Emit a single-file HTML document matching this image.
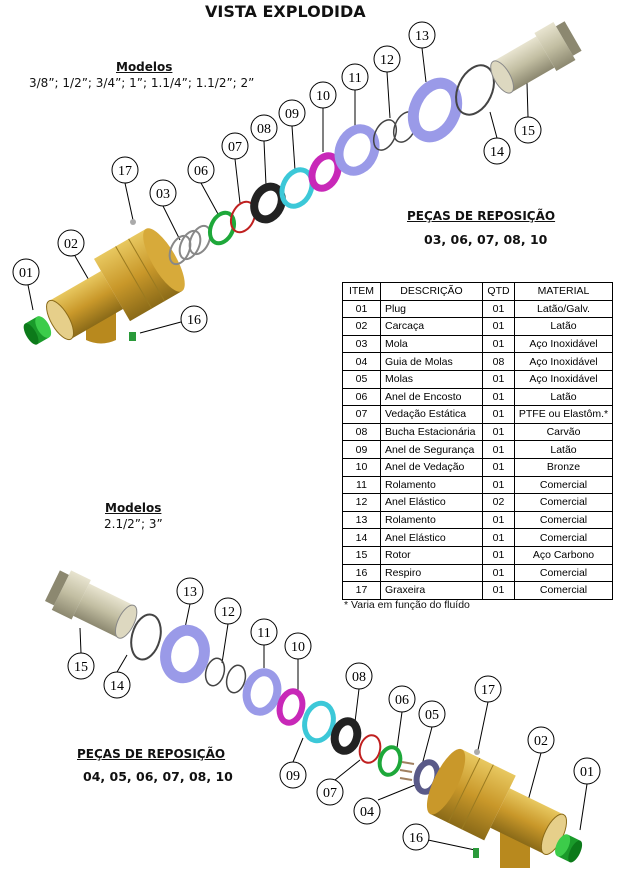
<!DOCTYPE html>
<html><head><meta charset="utf-8"><style>
body{margin:0;background:#fff;width:617px;height:873px;overflow:hidden;position:relative;font-family:"DejaVu Sans","Liberation Sans",sans-serif}
.t{position:absolute;white-space:nowrap;color:#111}
table{position:absolute;left:342px;top:282px;border-collapse:collapse;table-layout:fixed;width:270px;font-size:10.5px;font-family:"Liberation Sans",sans-serif}
td{border:1px solid #000;height:16.6px;padding:0 0 0 4px;line-height:16px;white-space:nowrap;overflow:hidden}
td.c{text-align:center;padding:0}
</style></head><body>
<svg width="617" height="873" style="position:absolute;left:0;top:0" xmlns="http://www.w3.org/2000/svg">
<defs>
<linearGradient id="br" x1="0" y1="0" x2="0" y2="1"><stop offset="0" stop-color="#e8c860"/><stop offset=".5" stop-color="#c9982a"/><stop offset="1" stop-color="#8a6a18"/></linearGradient>
<linearGradient id="ro" x1="0" y1="0" x2="0" y2="1"><stop offset="0" stop-color="#e8e4d0"/><stop offset=".5" stop-color="#c2bea2"/><stop offset="1" stop-color="#8c8870"/></linearGradient>
</defs>
<g stroke="#000" stroke-width="1" fill="none">
<line x1="125" y1="183" x2="133" y2="220"/><line x1="163" y1="206" x2="180" y2="240"/>
<line x1="201" y1="183" x2="218" y2="214"/><line x1="235" y1="159" x2="240" y2="203"/>
<line x1="264" y1="141" x2="266" y2="185"/><line x1="292" y1="126" x2="295" y2="170"/>
<line x1="323" y1="108" x2="323" y2="152"/><line x1="355" y1="90" x2="355" y2="128"/>
<line x1="387" y1="72" x2="390" y2="118"/><line x1="422" y1="48" x2="426" y2="82"/>
<line x1="497" y1="138" x2="490" y2="112"/><line x1="528" y1="117" x2="527" y2="83"/>
<line x1="75" y1="256" x2="90" y2="282"/><line x1="28" y1="285" x2="33" y2="310"/>
<line x1="181" y1="322" x2="140" y2="333"/>
<line x1="190" y1="604" x2="185" y2="628"/><line x1="228" y1="624" x2="222" y2="663"/>
<line x1="264" y1="645" x2="264" y2="668"/><line x1="298" y1="659" x2="298" y2="690"/>
<line x1="359" y1="689" x2="355" y2="722"/><line x1="402" y1="712" x2="397" y2="748"/>
<line x1="432" y1="727" x2="422" y2="765"/><line x1="488" y1="702" x2="478" y2="750"/>
<line x1="541" y1="753" x2="525" y2="812"/><line x1="587" y1="784" x2="580" y2="830"/>
<line x1="81" y1="653" x2="80" y2="628"/><line x1="117" y1="672" x2="127" y2="655"/>
<line x1="293" y1="762" x2="303" y2="738"/><line x1="335" y1="780" x2="360" y2="760"/>
<line x1="378" y1="800" x2="415" y2="785"/><line x1="428" y1="840" x2="475" y2="850"/>
</g>
<g transform="translate(38,330) rotate(-30)"><rect x="-8" y="-12" width="14" height="24" fill="#1a9a2a"/><ellipse cx="6" cy="0" rx="6" ry="12" fill="#3ccc4a"/><ellipse cx="-8" cy="0" rx="5" ry="12" fill="#0c7a1a"/></g>
<path d="M86,300 L116,300 L116,340 Q101,347 86,340 Z" fill="#b8891e"/>
<g transform="translate(112,290) rotate(-30)">
<rect x="-60" y="-22" width="60" height="44" fill="url(#br)"/>
<rect x="0" y="-36" width="60" height="72" fill="url(#br)"/>
<ellipse cx="60" cy="0" rx="12" ry="36" fill="#d7aa3a"/>
<ellipse cx="-60" cy="0" rx="9" ry="22" fill="#e6cf8a" stroke="#8a6a18"/>
<line x1="25" y1="-36" x2="25" y2="36" stroke="#9a7a20"/><line x1="40" y1="-36" x2="40" y2="36" stroke="#9a7a20"/>
</g>
<circle cx="133" cy="222" r="3" fill="#aaa"/>
<rect x="129" y="332" width="7" height="9" fill="#2a9a3a"/>
<g fill="none" stroke="#888" stroke-width="2"><ellipse cx="180" cy="250" rx="9" ry="15" transform="rotate(25 180 250)"/><ellipse cx="190" cy="245" rx="9" ry="15" transform="rotate(25 190 245)"/><ellipse cx="200" cy="240" rx="9" ry="15" transform="rotate(25 200 240)"/></g>
<ellipse cx="222" cy="228" rx="11" ry="16" transform="rotate(25 222 228)" fill="none" stroke="#1ea83a" stroke-width="4"/>
<ellipse cx="243" cy="217" rx="11" ry="16" transform="rotate(25 243 217)" fill="none" stroke="#c02020" stroke-width="2"/>
<ellipse cx="268" cy="203" rx="13" ry="17" transform="rotate(25 268 203)" fill="none" stroke="#222" stroke-width="8"/>
<ellipse cx="297" cy="188" rx="14" ry="19" transform="rotate(25 297 188)" fill="none" stroke="#3cc8d8" stroke-width="5"/>
<ellipse cx="325" cy="172" rx="12" ry="17" transform="rotate(25 325 172)" fill="none" stroke="#c828b8" stroke-width="7"/>
<ellipse cx="357" cy="150" rx="17" ry="22" transform="rotate(25 357 150)" fill="none" stroke="#9a9ae8" stroke-width="9"/>
<ellipse cx="385" cy="135" rx="10" ry="16" transform="rotate(25 385 135)" fill="none" stroke="#444" stroke-width="1.5"/>
<ellipse cx="405" cy="127" rx="10" ry="16" transform="rotate(25 405 127)" fill="none" stroke="#444" stroke-width="1.5"/>
<ellipse cx="435" cy="110" rx="20" ry="28" transform="rotate(25 435 110)" fill="none" stroke="#9a9ae8" stroke-width="11"/>
<ellipse cx="475" cy="90" rx="17" ry="26" transform="rotate(25 475 90)" fill="none" stroke="#444" stroke-width="2"/>
<g transform="translate(535,58) rotate(-30)"><rect x="-38" y="-18" width="50" height="36" fill="url(#ro)"/><rect x="12" y="-22" width="22" height="44" fill="url(#ro)"/><rect x="34" y="-17" width="10" height="34" fill="#8c8870"/><ellipse cx="-38" cy="0" rx="8" ry="18" fill="#ddd8c0" stroke="#888"/></g>
<g transform="translate(92,605) rotate(26)"><rect x="-12" y="-18" width="50" height="36" fill="url(#ro)"/><rect x="-34" y="-22" width="22" height="44" fill="url(#ro)"/><rect x="-44" y="-17" width="10" height="34" fill="#8c8870"/><ellipse cx="38" cy="0" rx="8" ry="18" fill="#ddd8c0" stroke="#888"/></g>
<ellipse cx="146" cy="637" rx="14" ry="23" transform="rotate(15 146 637)" fill="none" stroke="#444" stroke-width="2"/>
<ellipse cx="185" cy="654" rx="19" ry="24" transform="rotate(15 185 654)" fill="none" stroke="#9a9ae8" stroke-width="11"/>
<ellipse cx="215" cy="672" rx="9" ry="14" transform="rotate(15 215 672)" fill="none" stroke="#444" stroke-width="1.5"/>
<ellipse cx="236" cy="679" rx="9" ry="14" transform="rotate(15 236 679)" fill="none" stroke="#444" stroke-width="1.5"/>
<ellipse cx="262" cy="692" rx="15" ry="20" transform="rotate(15 262 692)" fill="none" stroke="#9a9ae8" stroke-width="8"/>
<ellipse cx="291" cy="707" rx="11" ry="16" transform="rotate(15 291 707)" fill="none" stroke="#c828b8" stroke-width="6"/>
<ellipse cx="319" cy="722" rx="14" ry="19" transform="rotate(15 319 722)" fill="none" stroke="#3cc8d8" stroke-width="5"/>
<ellipse cx="346" cy="736" rx="11" ry="15" transform="rotate(15 346 736)" fill="none" stroke="#222" stroke-width="8"/>
<ellipse cx="370" cy="749" rx="10" ry="14" transform="rotate(15 370 749)" fill="none" stroke="#c02020" stroke-width="2"/>
<ellipse cx="390" cy="761" rx="10" ry="14" transform="rotate(15 390 761)" fill="none" stroke="#1ea83a" stroke-width="4"/>
<g stroke="#a08060" stroke-width="2"><line x1="402" y1="762" x2="414" y2="764"/><line x1="400" y1="770" x2="412" y2="772"/><line x1="400" y1="778" x2="412" y2="780"/></g>
<ellipse cx="427" cy="777" rx="10" ry="15" transform="rotate(15 427 777)" fill="none" stroke="#5a5a88" stroke-width="6"/>
<path d="M500,820 L530,820 L530,868 L500,868 Z" fill="#b8891e"/>
<g transform="translate(500,808) rotate(26)">
<rect x="0" y="-22" width="60" height="44" fill="url(#br)"/>
<rect x="-60" y="-36" width="60" height="72" fill="url(#br)"/>
<ellipse cx="-60" cy="0" rx="12" ry="36" fill="#c9982a"/>
<ellipse cx="60" cy="0" rx="9" ry="22" fill="#e6cf8a" stroke="#8a6a18"/>
<line x1="-25" y1="-36" x2="-25" y2="36" stroke="#9a7a20"/><line x1="-40" y1="-36" x2="-40" y2="36" stroke="#9a7a20"/>
</g>
<circle cx="477" cy="752" r="3" fill="#aaa"/>
<rect x="473" y="848" width="6" height="10" fill="#2a9a3a"/>
<g transform="translate(568,848) rotate(26)"><rect x="-6" y="-12" width="14" height="24" fill="#1a9a2a"/><ellipse cx="-6" cy="0" rx="6" ry="12" fill="#3ccc4a"/><ellipse cx="8" cy="0" rx="5" ry="12" fill="#0c7a1a"/></g>
<g font-family="Liberation Serif,serif" font-size="14" text-anchor="middle" fill="#000">
<g fill="#fff" stroke="#000" stroke-width="1">
<circle cx="125" cy="170" r="13"/><circle cx="163" cy="193" r="13"/><circle cx="201" cy="170" r="13"/><circle cx="235" cy="146" r="13"/><circle cx="264" cy="128" r="13"/><circle cx="292" cy="113" r="13"/><circle cx="323" cy="95" r="13"/><circle cx="355" cy="77" r="13"/><circle cx="387" cy="59" r="13"/><circle cx="422" cy="35" r="13"/><circle cx="497" cy="151" r="13"/><circle cx="528" cy="130" r="13"/><circle cx="71" cy="243" r="13"/><circle cx="26" cy="272" r="13"/><circle cx="194" cy="319" r="13"/>
<circle cx="190" cy="591" r="13"/><circle cx="228" cy="611" r="13"/><circle cx="264" cy="632" r="13"/><circle cx="298" cy="646" r="13"/><circle cx="359" cy="676" r="13"/><circle cx="402" cy="699" r="13"/><circle cx="432" cy="714" r="13"/><circle cx="488" cy="689" r="13"/><circle cx="541" cy="740" r="13"/><circle cx="587" cy="771" r="13"/><circle cx="81" cy="666" r="13"/><circle cx="117" cy="685" r="13"/><circle cx="293" cy="775" r="13"/><circle cx="330" cy="792" r="13"/><circle cx="367" cy="811" r="13"/><circle cx="416" cy="837" r="13"/>
</g>
<text x="125" y="175">17</text><text x="163" y="198">03</text><text x="201" y="175">06</text><text x="235" y="151">07</text><text x="264" y="133">08</text><text x="292" y="118">09</text><text x="323" y="100">10</text><text x="355" y="82">11</text><text x="387" y="64">12</text><text x="422" y="40">13</text><text x="497" y="156">14</text><text x="528" y="135">15</text><text x="71" y="248">02</text><text x="26" y="277">01</text><text x="194" y="324">16</text>
<text x="190" y="596">13</text><text x="228" y="616">12</text><text x="264" y="637">11</text><text x="298" y="651">10</text><text x="359" y="681">08</text><text x="402" y="704">06</text><text x="432" y="719">05</text><text x="488" y="694">17</text><text x="541" y="745">02</text><text x="587" y="776">01</text><text x="81" y="671">15</text><text x="117" y="690">14</text><text x="293" y="780">09</text><text x="330" y="797">07</text><text x="367" y="816">04</text><text x="416" y="842">16</text>
</g>
</svg>
<div class="t" style="left:205px;top:2px;font-size:16px;font-weight:bold;">VISTA EXPLODIDA</div>
<div class="t" style="left:116px;top:60px;font-size:12px;font-weight:bold;text-decoration:underline;">Modelos</div>
<div class="t" style="left:29px;top:76px;font-size:12px;">3/8”; 1/2”; 3/4”; 1”; 1.1/4”; 1.1/2”; 2”</div>
<div class="t" style="left:407px;top:209px;font-size:12px;font-weight:bold;text-decoration:underline;">PEÇAS DE REPOSIÇÃO</div>
<div class="t" style="left:424px;top:232px;font-size:12.5px;font-weight:bold;">03, 06, 07, 08, 10</div>
<div class="t" style="left:105px;top:501px;font-size:12px;font-weight:bold;text-decoration:underline;">Modelos</div>
<div class="t" style="left:104px;top:517px;font-size:12px;">2.1/2”; 3”</div>
<div class="t" style="left:77px;top:747px;font-size:12px;font-weight:bold;text-decoration:underline;">PEÇAS DE REPOSIÇÃO</div>
<div class="t" style="left:83px;top:769px;font-size:12.5px;font-weight:bold;">04, 05, 06, 07, 08, 10</div>
<table>
<colgroup><col style="width:38px"><col style="width:102px"><col style="width:32px"><col style="width:98px"></colgroup>
<tr><td class="c">ITEM</td><td class="c">DESCRIÇÃO</td><td class="c">QTD</td><td class="c">MATERIAL</td></tr>
<tr><td class="c">01</td><td>Plug</td><td class="c">01</td><td class="c">Latão/Galv.</td></tr>
<tr><td class="c">02</td><td>Carcaça</td><td class="c">01</td><td class="c">Latão</td></tr>
<tr><td class="c">03</td><td>Mola</td><td class="c">01</td><td class="c">Aço Inoxidável</td></tr>
<tr><td class="c">04</td><td>Guia de Molas</td><td class="c">08</td><td class="c">Aço Inoxidável</td></tr>
<tr><td class="c">05</td><td>Molas</td><td class="c">01</td><td class="c">Aço Inoxidável</td></tr>
<tr><td class="c">06</td><td>Anel de Encosto</td><td class="c">01</td><td class="c">Latão</td></tr>
<tr><td class="c">07</td><td>Vedação Estática</td><td class="c">01</td><td class="c">PTFE ou Elastôm.*</td></tr>
<tr><td class="c">08</td><td>Bucha Estacionária</td><td class="c">01</td><td class="c">Carvão</td></tr>
<tr><td class="c">09</td><td>Anel de Segurança</td><td class="c">01</td><td class="c">Latão</td></tr>
<tr><td class="c">10</td><td>Anel de Vedação</td><td class="c">01</td><td class="c">Bronze</td></tr>
<tr><td class="c">11</td><td>Rolamento</td><td class="c">01</td><td class="c">Comercial</td></tr>
<tr><td class="c">12</td><td>Anel Elástico</td><td class="c">02</td><td class="c">Comercial</td></tr>
<tr><td class="c">13</td><td>Rolamento</td><td class="c">01</td><td class="c">Comercial</td></tr>
<tr><td class="c">14</td><td>Anel Elástico</td><td class="c">01</td><td class="c">Comercial</td></tr>
<tr><td class="c">15</td><td>Rotor</td><td class="c">01</td><td class="c">Aço Carbono</td></tr>
<tr><td class="c">16</td><td>Respiro</td><td class="c">01</td><td class="c">Comercial</td></tr>
<tr><td class="c">17</td><td>Graxeira</td><td class="c">01</td><td class="c">Comercial</td></tr>
</table>
<div class="t" style="left:344px;top:599px;font-size:10.5px;font-family:'Liberation Sans',sans-serif">* Varia em função do fluído</div>
</body></html>
